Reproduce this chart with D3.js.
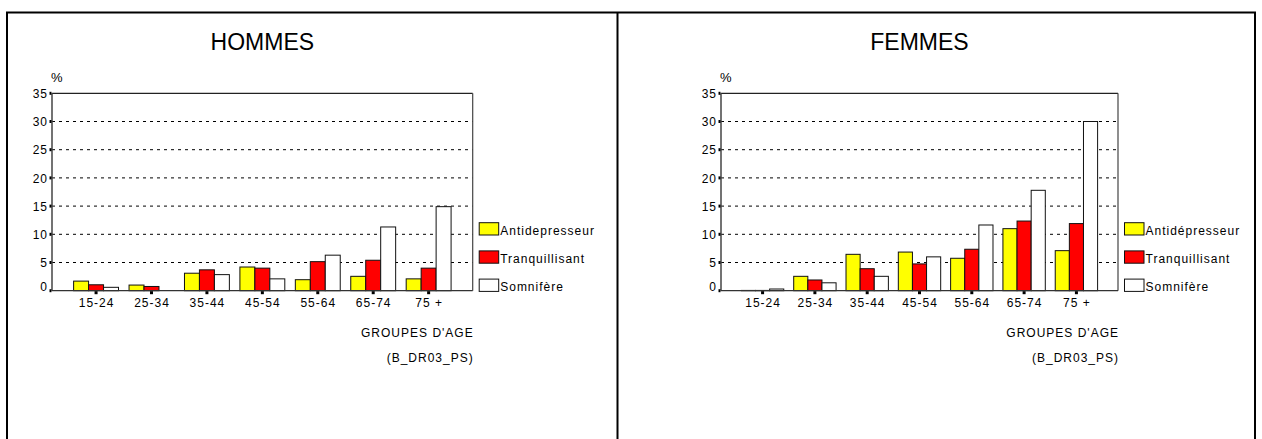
<!DOCTYPE html>
<html>
<head>
<meta charset="utf-8">
<script src="https://cdn.jsdelivr.net/npm/d3@7"></script>
<style>
  body { margin: 0; background: #fff; }
  text { font-family: "Liberation Sans", Arial, sans-serif; fill: #000; }
</style>
</head>
<body>
<div class="chart"></div>
<script>
// DATA ------------------------------------

const ageGroups = ["15-24", "25-34", "35-44", "45-54", "55-64", "65-74", "75 +"];
const yTicks = [0, 5, 10, 15, 20, 25, 30, 35];

const hommesNames = ["Antidepresseur", "Tranquillisant", "Somnifère"];
const hommesAnti = [1.7, 1.0, 3.1, 4.2, 1.95, 2.55, 2.1];
const hommesTranq = [1.05, 0.75, 3.7, 4.0, 5.15, 5.4, 4.0];
const hommesSomn = [0.6, 0, 2.85, 2.1, 6.3, 11.3, 14.9];

const femmesNames = ["Antidépresseur", "Tranquillisant", "Somnifère"];
const femmesAnti = [0.05, 2.55, 6.45, 6.85, 5.75, 11.0, 7.1];
const femmesTranq = [0.05, 1.9, 3.9, 4.75, 7.35, 12.35, 11.9];
const femmesSomn = [0.3, 1.4, 2.55, 6.0, 11.65, 17.8, 30.0];

const colors = ["#ffff00", "#ff0000", "#ffffff"];

// SVG + FRAME -----------------------------

const W = 1262, H = 439;
const svg = d3.select(".chart").append("svg")
    .attr("width", W)
    .attr("height", H);

svg.append("rect")
    .attr("x", 7).attr("y", 12.5)
    .attr("width", 1248).attr("height", 460)
    .attr("fill", "none").attr("stroke", "#000").attr("stroke-width", 2);
svg.append("line")
    .attr("x1", 617.5).attr("x2", 617.5).attr("y1", 12.5).attr("y2", H)
    .attr("stroke", "#000").attr("stroke-width", 2);

// PANEL -----------------------------------

function panel(title, names, series, x0, x1) {
    const top = 93.3, bottom = 290.7;
    const g = svg.append("g");

    const xScale = d3.scaleBand()
        .domain(ageGroups)
        .range([x0, x1])
        .paddingInner(0.19)
        .paddingOuter(0.39);
    const inner = d3.scaleBand()
        .domain(d3.range(names.length))
        .range([0, xScale.bandwidth()]);
    const yScale = d3.scaleLinear()
        .domain([0, 35])
        .range([bottom, top]);

    // title
    g.append("text")
        .attr("x", (x0 + x1) / 2).attr("y", 50)
        .attr("text-anchor", "middle")
        .style("font-size", "23px")
        .text(title);

    g.append("text")
        .attr("x", x0 - 1).attr("y", 81.5)
        .style("font-size", "13px")
        .text("%");

    // gridlines
    g.selectAll(".grid").data(yTicks.filter(d => d > 0 && d < 35)).enter()
        .append("line")
        .attr("x1", x0).attr("x2", x1)
        .attr("y1", d => yScale(d)).attr("y2", d => yScale(d))
        .attr("stroke", "#000").attr("stroke-width", 1)
        .attr("stroke-dasharray", "3,4");

    // plot frame
    g.append("line").attr("x1", x0).attr("x2", x1)
        .attr("y1", yScale(35)).attr("y2", yScale(35))
        .attr("stroke", "#222").attr("stroke-width", 1.2);
    g.append("line").attr("x1", x1).attr("x2", x1)
        .attr("y1", top).attr("y2", bottom)
        .attr("stroke", "#444").attr("stroke-width", 1.2);

    // bars
    const groups = g.selectAll(".grp").data(ageGroups).enter()
        .append("g")
        .attr("transform", d => `translate(${xScale(d)},0)`);
    groups.selectAll("rect")
        .data((d, i) => series.map((s, k) => ({k: k, v: s[i]})))
        .enter().append("rect")
        .attr("x", d => inner(d.k))
        .attr("y", d => yScale(d.v))
        .attr("width", inner.bandwidth())
        .attr("height", d => bottom - yScale(d.v))
        .attr("fill", d => colors[d.k])
        .attr("stroke", "#111").attr("stroke-width", 1);

    // axes
    g.append("line").attr("x1", x0).attr("x2", x0)
        .attr("y1", top).attr("y2", bottom)
        .attr("stroke", "#444").attr("stroke-width", 1.5);
    g.append("line").attr("x1", x0).attr("x2", x1)
        .attr("y1", bottom).attr("y2", bottom)
        .attr("stroke", "#333").attr("stroke-width", 1.3);

    g.selectAll(".ytick").data(yTicks).enter()
        .append("rect")
        .attr("x", x0 - 2.5).attr("y", d => yScale(d) - 1.5)
        .attr("width", 2).attr("height", 3).attr("fill", "#000");
    g.selectAll(".ylab").data(yTicks).enter()
        .append("text")
        .attr("x", x0 - 4)
        .attr("y", d => d === 0 ? yScale(d) : yScale(d) + 4.7)
        .attr("text-anchor", "end")
        .style("font-size", "12px").style("letter-spacing", "1px")
        .text(d => d);

    g.selectAll(".xtick").data(ageGroups).enter()
        .append("rect")
        .attr("x", d => xScale(d) + xScale.bandwidth() / 2 - 1.5)
        .attr("y", bottom + 0.5)
        .attr("width", 3).attr("height", 3).attr("fill", "#000");
    g.selectAll(".xlab").data(ageGroups).enter()
        .append("text")
        .attr("x", d => xScale(d) + xScale.bandwidth() / 2 + 0.5)
        .attr("y", 306.7)
        .attr("text-anchor", "middle")
        .style("font-size", "12px").style("letter-spacing", "1px")
        .text(d => d);

    g.append("text")
        .attr("x", x1 + 1).attr("y", 336.7)
        .attr("text-anchor", "end")
        .style("font-size", "12px").style("letter-spacing", "1px")
        .text("GROUPES D'AGE");
    g.append("text")
        .attr("x", x1 + 1).attr("y", 362)
        .attr("text-anchor", "end")
        .style("font-size", "12px").style("letter-spacing", "1px")
        .text("(B_DR03_PS)");

    // legend
    const leg = g.selectAll(".leg").data(names).enter()
        .append("g")
        .attr("transform", (d, i) => `translate(${x1 + 6.5},${222.7 + i * 28.2})`);
    leg.append("rect")
        .attr("width", 19.5).attr("height", 12.3)
        .attr("fill", (d, i) => colors[i])
        .attr("stroke", "#111").attr("stroke-width", 1);
    leg.append("text")
        .attr("x", 21).attr("y", 12.3)
        .style("font-size", "12px").style("letter-spacing", "1px")
        .text(d => d);
}

panel("HOMMES", hommesNames, [hommesAnti, hommesTranq, hommesSomn], 52, 472.7);
panel("FEMMES", femmesNames, [femmesAnti, femmesTranq, femmesSomn], 721, 1118);
</script>
</body>
</html>
